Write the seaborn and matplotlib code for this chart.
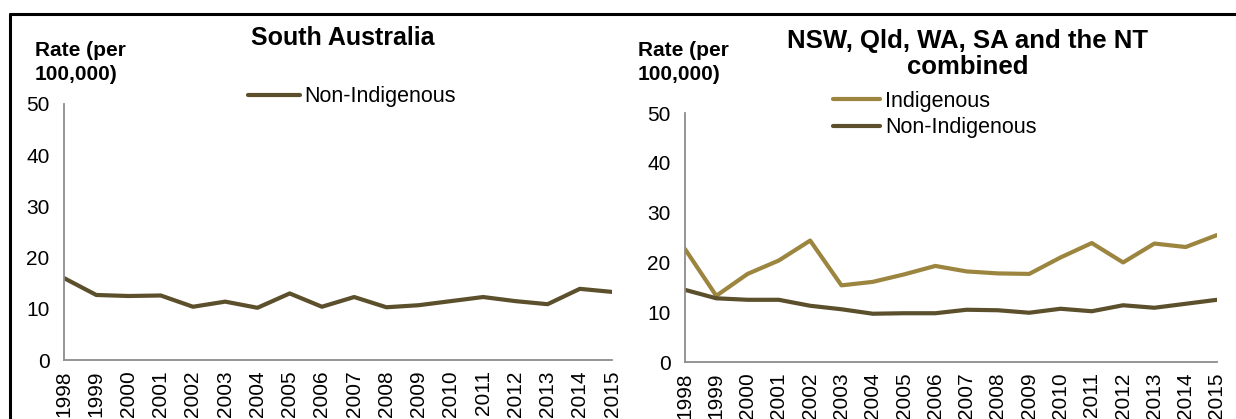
import matplotlib
matplotlib.use("Agg")
import matplotlib.pyplot as plt
import seaborn as sns
import pandas as pd
from matplotlib.lines import Line2D

years = list(range(1998, 2016))

sa_non_indigenous = [16.0, 12.7, 12.5, 12.6, 10.4, 11.4, 10.2, 13.0, 10.4, 12.3,
                     10.3, 10.7, 11.5, 12.3, 11.5, 10.9, 13.9, 13.3]

combined_indigenous = [22.7, 13.3, 17.7, 20.4, 24.4, 15.4, 16.1, 17.6, 19.3, 18.2,
                       17.8, 17.7, 21.0, 23.9, 20.0, 23.8, 23.1, 25.5]
combined_non_indigenous = [14.5, 12.8, 12.5, 12.5, 11.3, 10.6, 9.7, 9.8, 9.8, 10.5,
                           10.4, 9.9, 10.7, 10.2, 11.4, 10.9, 11.7, 12.5]

y_ticks = [0, 10, 20, 30, 40, 50]
palette = {"Indigenous": "#9B853F", "Non-Indigenous": "#5B4F2C"}

sns.set_theme(style="white")
plt.rcParams["font.family"] = ["Liberation Sans", "DejaVu Sans"]
plt.rcParams["text.color"] = "black"
plt.rcParams["legend.labelcolor"] = "black"

sa_df = pd.DataFrame({"year": years, "rate": sa_non_indigenous,
                      "group": "Non-Indigenous"})
comb_df = pd.concat([
    pd.DataFrame({"year": years, "rate": combined_indigenous, "group": "Indigenous"}),
    pd.DataFrame({"year": years, "rate": combined_non_indigenous, "group": "Non-Indigenous"}),
])

fig = plt.figure(figsize=(12.36, 4.19), dpi=100)
ax1 = fig.add_axes([0.0518, 0.1408, 0.4434, 0.611])
ax2 = fig.add_axes([0.5542, 0.1360, 0.4304, 0.594])

sns.lineplot(data=sa_df, x="year", y="rate", hue="group", palette=palette,
             linewidth=3, ax=ax1, legend=False)
sns.lineplot(data=comb_df, x="year", y="rate", hue="group", palette=palette,
             linewidth=3, ax=ax2, legend=False)

tick_size = 15
spine_grey = "#8C8C8C"
for ax in (ax1, ax2):
    ax.set_xlim(years[0], years[-1])
    ax.set_ylim(0, 50)
    ax.set_yticks(y_ticks)
    ax.set_xticks(years)
    ax.set_xticklabels([str(y) for y in years], rotation=90, fontsize=tick_size)
    ax.set_yticklabels([str(t) for t in y_ticks], fontsize=tick_size)
    ax.set_xlabel("")
    ax.set_ylabel("")
    for side in ("top", "right"):
        ax.spines[side].set_visible(False)
    for side in ("left", "bottom"):
        ax.spines[side].set_color(spine_grey)
        ax.spines[side].set_linewidth(1.3)
    ax.tick_params(axis="both", which="major", length=4, width=1.3,
                   color=spine_grey, labelcolor="black")
    ax.tick_params(axis="y", direction="out", pad=6.5)
    ax.tick_params(axis="x", direction="out", pad=3.5)
    ax.patch.set_alpha(0)

# Titles and axis captions
fig.text(0.2775, 0.909, "South Australia", ha="center", va="center",
         fontsize=18, fontweight="bold", color="black")
fig.text(0.783, 0.872, "NSW, Qld, WA, SA and the NT\ncombined", ha="center",
         va="center", fontsize=18.5, fontweight="bold", linespacing=1.1,
         color="black")
fig.text(0.028, 0.851, "Rate (per\n100,000)", ha="left", va="center",
         fontsize=15, fontweight="bold", linespacing=1.28, color="black")
fig.text(0.516, 0.851, "Rate (per\n100,000)", ha="left", va="center",
         fontsize=15, fontweight="bold", linespacing=1.28, color="black")

# Legends
h_non = Line2D([], [], color=palette["Non-Indigenous"], lw=3)
h_ind = Line2D([], [], color=palette["Indigenous"], lw=3)
fig.legend([h_non], ["Non-Indigenous"], loc="center left",
           bbox_to_anchor=(0.2006, 0.7685), frameon=False, fontsize=15.5,
           handlelength=2.4, handletextpad=0.23, borderaxespad=0, borderpad=0)
fig.legend([h_ind, h_non], ["Indigenous", "Non-Indigenous"], loc="center left",
           bbox_to_anchor=(0.674, 0.7267), frameon=False, fontsize=15.5,
           handlelength=2.2, handletextpad=0.23, labelspacing=0.25,
           borderaxespad=0, borderpad=0)

# Outer frame along the top and left edges
fig.add_artist(Line2D([0.0081, 1.0], [0.967, 0.967], color="black", lw=2.2,
                      transform=fig.transFigure))
fig.add_artist(Line2D([0.0081, 0.0081], [0.0, 0.967], color="black", lw=2.2,
                      transform=fig.transFigure))

fig.savefig("out.png", dpi=100)
